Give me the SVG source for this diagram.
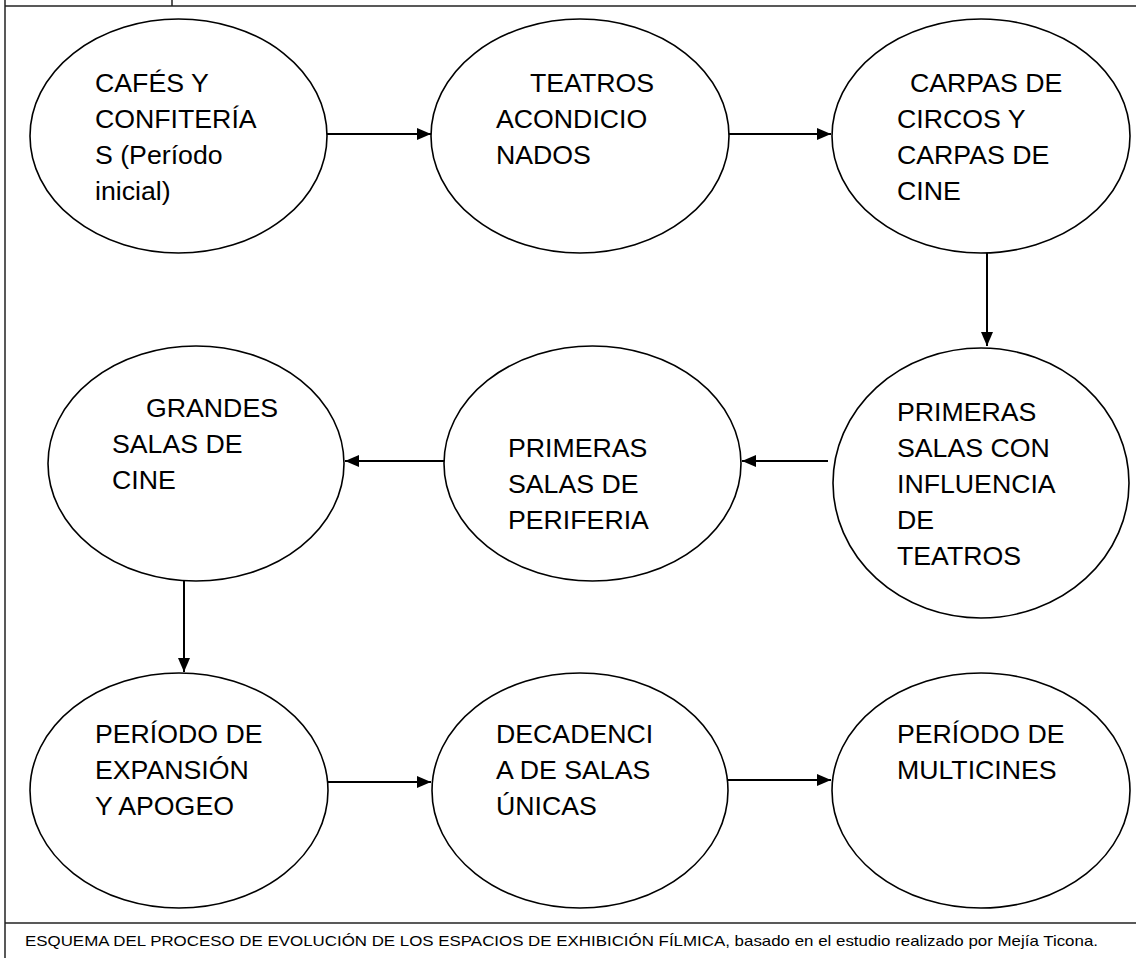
<svg xmlns="http://www.w3.org/2000/svg" width="1136" height="958" viewBox="0 0 1136 958">
<style>
.frame{stroke:#222;stroke-width:1.5;fill:none}
.node ellipse{fill:#fff;stroke:#000;stroke-width:1.6}
.node text{font-family:"Liberation Sans",Arial,sans-serif;font-size:26.7px;fill:#000}
.conn line{stroke:#000;stroke-width:2;marker-end:url(#ah)}
.cap{font-family:"Liberation Sans",Arial,sans-serif;font-size:15px;fill:#000}
</style>
<defs>
<marker id="ah" viewBox="0 0 14 12" refX="14" refY="6" markerWidth="14" markerHeight="12" markerUnits="userSpaceOnUse" orient="auto">
<path d="M0,0 L14,6 L0,12 z" fill="#000"/>
</marker>
</defs>
<rect width="1136" height="958" fill="#fff"/>
<g id="frame" class="frame">
<line x1="5" y1="6" x2="1136" y2="6"/>
<line x1="5" y1="0" x2="5" y2="958"/>
<line x1="172" y1="0" x2="172" y2="6"/>
<line x1="5" y1="923" x2="1136" y2="923"/>
</g>
<g id="connectors" class="conn">
<line x1="327" y1="134" x2="431" y2="134"/>
<line x1="729" y1="134" x2="831" y2="134"/>
<line x1="987" y1="252" x2="987" y2="346"/>
<line x1="828" y1="461" x2="742" y2="461"/>
<line x1="444" y1="461" x2="345" y2="461"/>
<line x1="184" y1="581" x2="184" y2="672"/>
<line x1="328" y1="782" x2="431" y2="782"/>
<line x1="725" y1="780" x2="831" y2="780"/>
</g>
<g id="n1" class="node">
<ellipse cx="178.5" cy="136" rx="148.5" ry="117"/>
<text x="95" y="92">CAFÉS Y</text>
<text x="95" y="128">CONFITERÍA</text>
<text x="95" y="164">S (Período</text>
<text x="95" y="200">inicial)</text>
</g>
<g id="n2" class="node">
<ellipse cx="580" cy="136" rx="149" ry="117"/>
<text x="530" y="92">TEATROS</text>
<text x="496" y="128">ACONDICIO</text>
<text x="496" y="164">NADOS</text>
</g>
<g id="n3" class="node">
<ellipse cx="981" cy="136" rx="149" ry="117"/>
<text x="910" y="92">CARPAS DE</text>
<text x="897" y="128">CIRCOS Y</text>
<text x="897" y="164">CARPAS DE</text>
<text x="897" y="200">CINE</text>
</g>
<g id="n4" class="node">
<ellipse cx="981" cy="483" rx="148" ry="135"/>
<text x="897" y="421">PRIMERAS</text>
<text x="897" y="457">SALAS CON</text>
<text x="897" y="493">INFLUENCIA</text>
<text x="897" y="529">DE</text>
<text x="897" y="565">TEATROS</text>
</g>
<g id="n5" class="node">
<ellipse cx="592.5" cy="463.5" rx="148.5" ry="117.5"/>
<text x="508" y="457">PRIMERAS</text>
<text x="508" y="493">SALAS DE</text>
<text x="508" y="529">PERIFERIA</text>
</g>
<g id="n6" class="node">
<ellipse cx="196" cy="463.5" rx="148" ry="117.5"/>
<text x="146" y="417">GRANDES</text>
<text x="112" y="453">SALAS DE</text>
<text x="112" y="489">CINE</text>
</g>
<g id="n7" class="node">
<ellipse cx="179" cy="790.5" rx="149" ry="117.5"/>
<text x="95" y="743">PERÍODO DE</text>
<text x="95" y="779">EXPANSIÓN</text>
<text x="95" y="815">Y APOGEO</text>
</g>
<g id="n8" class="node">
<ellipse cx="580" cy="790.5" rx="148" ry="117.5"/>
<text x="496" y="743">DECADENCI</text>
<text x="496" y="779">A DE SALAS</text>
<text x="496" y="815">ÚNICAS</text>
</g>
<g id="n9" class="node">
<ellipse cx="981" cy="790.5" rx="149" ry="117.5"/>
<text x="897" y="743">PERÍODO DE</text>
<text x="897" y="779">MULTICINES</text>
</g>
<text class="cap" x="25" y="946" textLength="1073" lengthAdjust="spacingAndGlyphs">ESQUEMA DEL PROCESO DE EVOLUCIÓN DE LOS ESPACIOS DE EXHIBICIÓN FÍLMICA, basado en el estudio realizado por Mejía Ticona.</text>
</svg>
